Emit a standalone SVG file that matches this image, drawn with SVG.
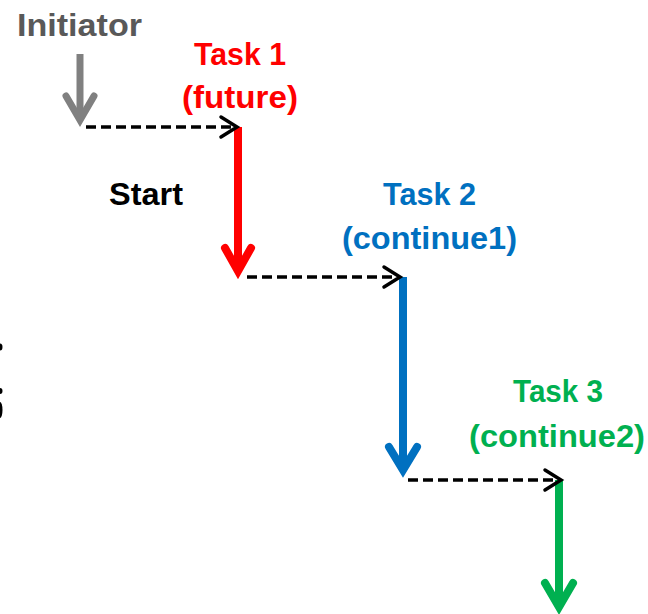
<svg xmlns="http://www.w3.org/2000/svg" width="648" height="614" viewBox="0 0 648 614">
  <style>
    text { font-family: "Liberation Sans", Arial, sans-serif; font-weight: bold; font-size: 31px; }
    .shaft { fill: none; stroke-linecap: butt; }
    .head { fill: none; stroke-linecap: round; stroke-linejoin: miter; stroke-miterlimit: 10; }
    .dash { fill: none; stroke: #000; stroke-width: 3.5; stroke-dasharray: 10 5; }
    .chev { fill: none; stroke: #000; stroke-width: 3.5; stroke-linecap: round; stroke-linejoin: miter; }
    .gray { stroke: #808080; stroke-width: 7; }
    .red { stroke: #FF0000; stroke-width: 8; }
    .blue { stroke: #0070C0; stroke-width: 8; }
    .green { stroke: #00B050; stroke-width: 8; }
  </style>
  <rect width="648" height="614" fill="#fff"/>

  <!-- clipped marks at the left edge -->
  <g id="edge-marks" fill="#000">
    <ellipse cx="0" cy="347" rx="2.5" ry="3.5"/>
    <ellipse cx="0" cy="391" rx="2.5" ry="3"/>
    <ellipse cx="0" cy="410" rx="2.5" ry="8"/>
  </g>

  <g id="initiator">
    <text x="17" y="36" fill="#595959" textLength="125" lengthAdjust="spacingAndGlyphs">Initiator</text>
    <path class="shaft gray" d="M80,54 V118"/>
    <path class="head gray" d="M66,96 L80,120 L94,96"/>
  </g>

  <g id="task1">
    <text x="194" y="65" fill="#FF0000" textLength="92" lengthAdjust="spacingAndGlyphs">Task 1</text>
    <text x="182" y="108" fill="#FF0000" textLength="116" lengthAdjust="spacingAndGlyphs">(future)</text>
    <path class="shaft red" d="M238,127 V268"/>
    <path class="head red" d="M225,248 L238,271 L251,248"/>
  </g>

  <g id="start-label">
    <text x="109" y="205" fill="#000" textLength="74" lengthAdjust="spacingAndGlyphs">Start</text>
  </g>

  <g id="task2">
    <text x="383" y="205" fill="#0070C0" textLength="93" lengthAdjust="spacingAndGlyphs">Task 2</text>
    <text x="342" y="249" fill="#0070C0" textLength="175" lengthAdjust="spacingAndGlyphs">(continue1)</text>
    <path class="shaft blue" d="M403,277 V467"/>
    <path class="head blue" d="M389,447 L403,470 L417,447"/>
  </g>

  <g id="task3">
    <text x="513" y="402" fill="#00B050" textLength="90" lengthAdjust="spacingAndGlyphs">Task 3</text>
    <text x="469" y="447" fill="#00B050" textLength="176" lengthAdjust="spacingAndGlyphs">(continue2)</text>
    <path class="shaft green" d="M559,480 V604"/>
    <path class="head green" d="M545,583 L559,607 L573,583"/>
  </g>

  <!-- dashed hand-off connectors -->
  <g id="connectors">
    <path class="dash" d="M86,127 H234"/>
    <path class="chev" d="M221,117 L237,127 L221,137"/>
    <path class="dash" d="M247,277 H398"/>
    <path class="chev" d="M384,267 L400,277 L384,287"/>
    <path class="dash" d="M408,480 H558"/>
    <path class="chev" d="M545,470 L561,480 L545,490"/>
  </g>
</svg>
